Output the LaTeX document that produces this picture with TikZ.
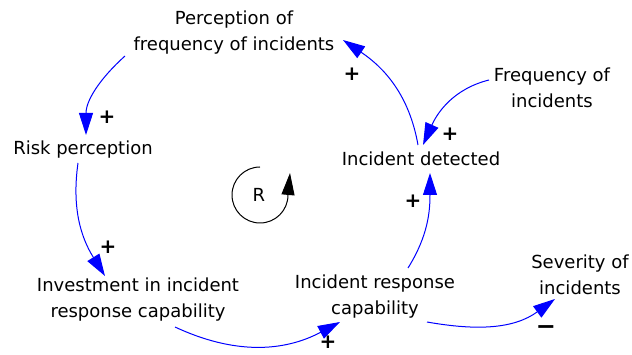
\documentclass[tikz,border=0pt]{standalone}
\usepackage{fontspec}
\setmainfont{DejaVu Sans}
\usetikzlibrary{arrows.meta,calc}
\begin{document}
\begin{tikzpicture}[x=1pt,y=1pt,
  lbl/.style={align=center, font=\fontsize{18}{26}\selectfont, inner sep=0pt},
  link/.style={draw=blue, line width=1pt, -{Triangle[length=22pt,width=14pt]}},
  sgn/.style={font=\fontsize{20}{20}\selectfont\bfseries, inner sep=0pt},
  loopar/.style={draw=black, line width=1pt, -{Triangle[length=22pt,width=13pt]}}]
\useasboundingbox (0,0) rectangle (632,-355);
% variables
\node[lbl] (perc) at (234,-33) {Perception of\\frequency of incidents};
\node[lbl] (risk) at (83,-150) {Risk perception};
\node[lbl] (det) at (421,-159) {Incident detected};
\node[lbl] (freq) at (552,-88) {Frequency of\\incidents};
\node[lbl] (inv) at (138,-300) {Investment in incident\\response capability};
\node[lbl] (irc) at (375,-297) {Incident response\\capability};
\node[lbl] (sev) at (580,-275) {Severity of\\incidents};
% connector ends
\coordinate (percOut) at (125,-56);
\coordinate (riskIn) at (86,-135);
\coordinate (riskOut) at (78,-163);
\coordinate (invIn) at (105,-276);
\coordinate (invOut) at (175,-327);
\coordinate (ircIn) at (340,-322);
\coordinate (ircOut) at (408,-268);
\coordinate (detIn) at (430,-173);
\coordinate (detOut) at (418,-145);
\coordinate (percIn) at (343,-40);
\coordinate (freqOut) at (489,-80);
\coordinate (detIn2) at (423,-145);
\coordinate (ircOut2) at (427,-322);
\coordinate (sevIn) at (555,-299);
% connectors
\draw[link] (percOut) to[out=222,in=90] (riskIn);
\draw[link] (riskOut) to[out=262,in=122] (invIn);
\draw[link] (invOut) to[out=335,in=208] (ircIn);
\draw[link] (ircOut) to[out=58,in=270] (detIn);
\draw[link] (detOut) to[out=100,in=326] (percIn);
\draw[link] (freqOut) to[out=194,in=66] (detIn2);
\draw[link] (ircOut2) to[out=350,in=216] (sevIn);
% polarities
\node[sgn] (s1) at (107,-117) {+};
\node[sgn] (s2) at (108,-247) {+};
\node[sgn] (s3) at (328,-342) {+};
\node[sgn] (s4) at (413,-201) {+};
\node[sgn] (s5) at (352,-74) {+};
\node[sgn] (s6) at (450,-134) {+};
\node[sgn, font=\fontsize{24}{24}\selectfont\bfseries] (s7) at (546,-330) {−};
% loop marker
\node[lbl] (R) at (259,-195) {R};
\coordinate (loopTop) at (260,-167);
\coordinate (loopTip) at (290,-173);
\draw[loopar] (loopTop) arc[start angle=90, end angle=360, radius=28] -- (loopTip);
\end{tikzpicture}
\end{document}
